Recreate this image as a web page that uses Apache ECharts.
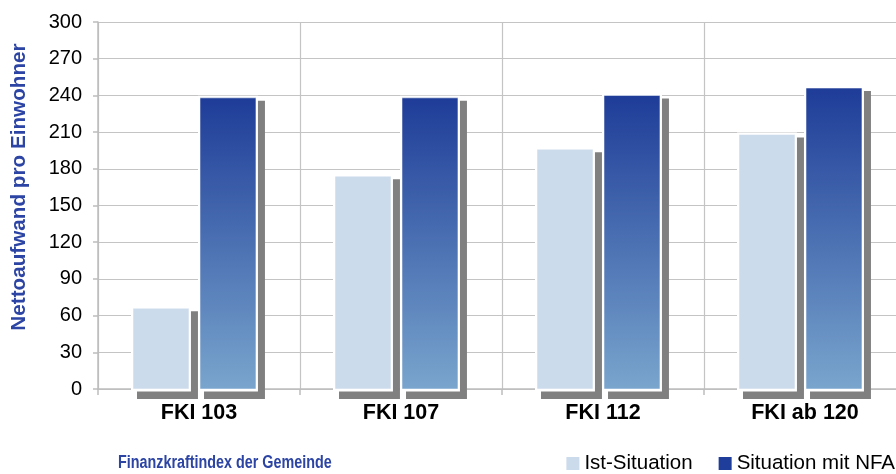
<!DOCTYPE html>
<html>
<head>
<meta charset="utf-8">
<script src="https://cdn.jsdelivr.net/npm/echarts@6/dist/echarts.min.js"></script>
<style>
html,body{margin:0;padding:0;background:#fff;}
#chart{width:896px;height:474px;}
</style>
</head>
<body>
<div id="chart"></div>
<script>
const categories = ['FKI 103', 'FKI 107', 'FKI 112', 'FKI ab 120'];
const istValues = [66, 174, 196, 208];
const nfaValues = [238, 238, 240, 246];
const yTicks = { min: 0, max: 300, interval: 30 };

const chart = echarts.init(document.getElementById('chart'));
const FONT = '"Liberation Sans", Arial, sans-serif';
const BLUE_TEXT = '#2C44A4';

function makeRender(offsetFrac, fill) {
  return function (params, api) {
    const idx = api.value(0);
    const val = api.value(1);
    const top = api.coord([idx, val]);
    const base = api.coord([idx, 0]);
    const band = api.size([1, 0])[0];
    const w = band * 0.277;
    const left = top[0] + band * offsetFrac;
    const h = base[1] - top[1];
    return {
      type: 'group',
      children: [
        { type: 'rect', shape: { x: left + 4, y: top[1] + 3, width: w + 5, height: h + 7 }, style: { fill: '#808080' } },
        { type: 'rect', shape: { x: left - 2, y: top[1] - 2, width: w + 4, height: h + 4.5 }, style: { fill: '#ffffff' } },
        { type: 'rect', shape: { x: left, y: top[1], width: w, height: h }, style: { fill: fill, stroke: 'rgba(255,255,255,0.5)', lineWidth: 1 } }
      ]
    };
  };
}

const darkGrad = new echarts.graphic.LinearGradient(0, 0, 0, 1, [
  { offset: 0, color: '#1E3C98' },
  { offset: 1, color: '#79A5CD' }
]);

chart.setOption({
  animation: false,
  grid: { left: 98, right: -10, top: 22, bottom: 85, outerBoundsMode: 'none', containLabel: false },
  legend: {
    right: 1,
    bottom: 0,
    padding: 0,
    itemWidth: 13,
    itemHeight: 13,
    itemGap: 26,
    icon: 'rect',
    textStyle: { fontFamily: FONT, fontSize: 20.5, color: '#000' },
    data: ['Ist-Situation', 'Situation mit NFA']
  },
  xAxis: {
    type: 'category',
    data: categories,
    boundaryGap: true,
    axisLine: { show: true, lineStyle: { color: '#BDBDBD', width: 1.5 } },
    axisTick: { show: true, length: 6, lineStyle: { color: '#BDBDBD', width: 1.5 } },
    splitLine: { show: true, lineStyle: { color: '#C4C4C4', width: 1.2 } },
    axisLabel: { fontFamily: FONT, fontSize: 21.5, fontWeight: 'bold', color: '#000', margin: 13 }
  },
  yAxis: {
    type: 'value',
    min: yTicks.min,
    max: yTicks.max,
    interval: yTicks.interval,
    axisLine: { show: true, lineStyle: { color: '#BDBDBD', width: 1.5 } },
    axisTick: { show: true, length: 5, lineStyle: { color: '#BDBDBD', width: 1.5 } },
    splitLine: { show: true, lineStyle: { color: '#C4C4C4', width: 1.2 } },
    axisLabel: { fontFamily: FONT, fontSize: 20, color: '#000', margin: 16 }
  },
  graphic: [
    {
      type: 'text',
      x: 19, y: 187,
      rotation: Math.PI / 2,
      style: {
        text: 'Nettoaufwand pro Einwohner',
        font: 'bold 20.7px ' + FONT,
        fill: BLUE_TEXT,
        align: 'center',
        verticalAlign: 'middle'
      }
    },
    {
      type: 'text',
      x: 118, y: 463,
      scaleX: 0.82,
      style: {
        text: 'Finanzkraftindex der Gemeinde',
        font: 'bold 17.5px ' + FONT,
        fill: BLUE_TEXT,
        align: 'left',
        verticalAlign: 'middle'
      }
    }
  ],
  series: [
    {
      name: 'Ist-Situation',
      type: 'custom',
      itemStyle: { color: '#CCDBEB' },
      renderItem: makeRender(-0.3267, '#CCDBEB'),
      encode: { x: 0, y: 1 },
      data: istValues.map((v, i) => [i, v])
    },
    {
      name: 'Situation mit NFA',
      type: 'custom',
      itemStyle: { color: '#1F3D9A' },
      renderItem: makeRender(0.005, darkGrad),
      encode: { x: 0, y: 1 },
      data: nfaValues.map((v, i) => [i, v])
    }
  ]
});
</script>
</body>
</html>
